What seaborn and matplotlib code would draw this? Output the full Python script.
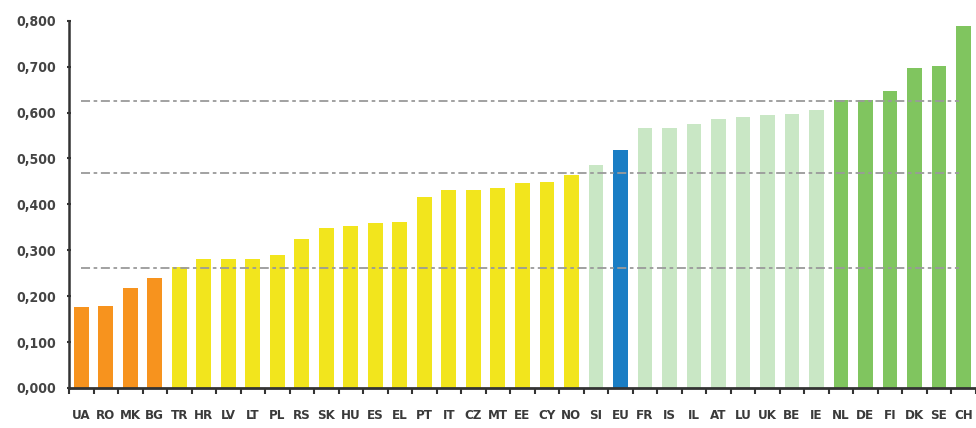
import matplotlib
matplotlib.use("Agg")
import matplotlib.pyplot as plt
import numpy as np
import pandas as pd
import seaborn as sns
from matplotlib.ticker import FuncFormatter, FixedLocator

# country codes, ordered as in the chart
countries = ['UA', 'RO', 'MK', 'BG', 'TR', 'HR', 'LV', 'LT', 'PL', 'RS', 'SK', 'HU',
             'ES', 'EL', 'PT', 'IT', 'CZ', 'MT', 'EE', 'CY', 'NO', 'SI', 'EU', 'FR',
             'IS', 'IL', 'AT', 'LU', 'UK', 'BE', 'IE', 'NL', 'DE', 'FI', 'DK', 'SE', 'CH']

values = [0.177, 0.178, 0.218, 0.240, 0.264, 0.281, 0.281, 0.281, 0.290, 0.325, 0.349, 0.353,
          0.360, 0.361, 0.417, 0.432, 0.432, 0.436, 0.447, 0.448, 0.464, 0.486, 0.519, 0.567,
          0.567, 0.575, 0.586, 0.591, 0.595, 0.596, 0.606, 0.628, 0.628, 0.647, 0.697, 0.702, 0.789]

groups = (['low'] * 4 + ['mid'] * 17 + ['upper'] + ['eu'] + ['upper'] * 8 + ['top'] * 6)

# reference levels (dashed lines)
levels = [0.261, 0.468, 0.625]

palette = {'low': '#F7931E', 'mid': '#F2E51D', 'upper': '#C9E7C5',
           'eu': '#1A7DC4', 'top': '#80C55F'}

df = pd.DataFrame({'country': countries, 'value': values, 'group': groups})

fig = plt.figure(figsize=(9.76, 4.28), dpi=100)
ax = fig.add_axes([0.0707, 0.0935, 0.929, 0.858])

sns.barplot(data=df, x='country', y='value', hue='group', palette=palette,
            dodge=False, width=0.6, legend=False, ax=ax, saturation=1)

n = len(countries)
for lv in levels:
    ax.hlines(lv, 0, n - 1.2, colors='#9a9a9a', linestyles=(0, (5, 2, 2, 2)),
              linewidth=1.3, zorder=3)

ax.set_xlim(-0.5, n - 0.5)
ax.set_ylim(0, 0.8)
ax.set_yticks(np.arange(0, 0.81, 0.1))
ax.yaxis.set_major_formatter(FuncFormatter(lambda v, p: f"{v:.3f}".replace('.', ',')))

ax.set_xlabel('')
ax.set_ylabel('')

# tick marks sit between bars
ax.xaxis.set_minor_locator(FixedLocator(np.arange(-0.5, n, 1.0)))
ax.tick_params(axis='x', which='major', length=0, pad=15, labelsize=9.5, labelcolor='#3a3a3a')
ax.tick_params(axis='x', which='minor', length=4, width=1.5, color='#333333', direction='out')
ax.tick_params(axis='y', length=3, width=1.5, color='#333333', labelsize=10,
               labelcolor='#444444', direction='inout', pad=8)
for lab in ax.get_xticklabels() + ax.get_yticklabels():
    lab.set_fontweight('bold')
    lab.set_fontstretch('condensed')

for s in ['top', 'right']:
    ax.spines[s].set_visible(False)
ax.spines['left'].set_color('#333333')
ax.spines['left'].set_linewidth(1.8)
ax.spines['bottom'].set_color('#333333')
ax.spines['bottom'].set_linewidth(2.0)

fig.savefig('out.png', dpi=100)
